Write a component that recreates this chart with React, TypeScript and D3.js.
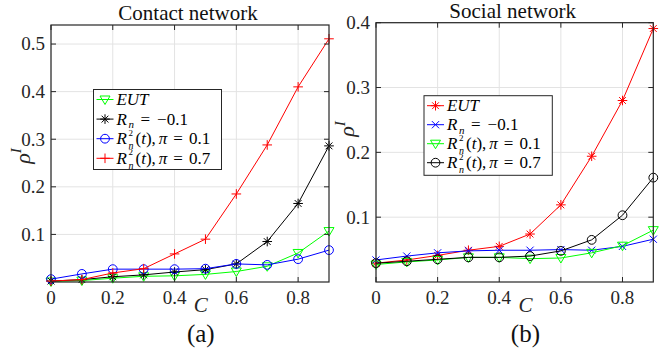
import React from 'react';
import * as d3 from 'd3';

// fraction of community detection / contact restriction C
const cValues = [0, 0.1, 0.2, 0.3, 0.4, 0.5, 0.6, 0.7, 0.8, 0.9];
const xTicks = [0, 0.2, 0.4, 0.6, 0.8];

// (a) contact network
const contactEUT = [0.001, 0.003, 0.008, 0.012, 0.013, 0.016, 0.022, 0.033, 0.061, 0.107];
const contactRn = [0.002, 0.005, 0.011, 0.015, 0.021, 0.026, 0.038, 0.085, 0.165, 0.286];
const contactPi01 = [0.006, 0.017, 0.027, 0.027, 0.027, 0.028, 0.038, 0.036, 0.048, 0.067];
const contactPi07 = [0.002, 0.005, 0.019, 0.028, 0.059, 0.09, 0.185, 0.288, 0.41, 0.511];
const contactYTicks = [0.1, 0.2, 0.3, 0.4, 0.5];

// (b) social network
const socialEUT = [0.029, 0.034, 0.041, 0.049, 0.055, 0.074, 0.119, 0.194, 0.28, 0.391];
const socialRn = [0.034, 0.04, 0.045, 0.048, 0.049, 0.049, 0.05, 0.049, 0.055, 0.066];
const socialPi01 = [0.027, 0.031, 0.034, 0.038, 0.038, 0.036, 0.037, 0.045, 0.056, 0.08];
const socialPi07 = [0.029, 0.032, 0.035, 0.038, 0.038, 0.04, 0.048, 0.065, 0.103, 0.161];
const socialYTicks = [0.1, 0.2, 0.3, 0.4];

const FONT = '"Liberation Serif", "DejaVu Serif", serif';
const AX = '#262626';
const GRID = '#e3e3e3';

type Marker = 'plus' | 'star' | 'circle' | 'tri' | 'cross';
type Label = 'eut' | 'rn' | 'pi01' | 'pi07';
interface Series { values: number[]; color: string; marker: Marker; label: Label }

function MarkerShape({ m, x, y, color }: { m: Marker; x: number; y: number; color: string }) {
  const s = 4.8;
  const p = { stroke: color, strokeWidth: 1, fill: 'none' };
  if (m === 'circle') return <circle cx={x} cy={y} r={4.4} {...p} />;
  if (m === 'tri')
    return <path d={`M${x - 5},${y - 3.5}L${x + 5},${y - 3.5}L${x},${y + 5}Z`} {...p} />;
  if (m === 'plus') return <path d={`M${x - s},${y}H${x + s}M${x},${y - s}V${y + s}`} {...p} />;
  if (m === 'cross') {
    const d = 3.6;
    return <path d={`M${x - d},${y - d}L${x + d},${y + d}M${x - d},${y + d}L${x + d},${y - d}`} {...p} />;
  }
  const d = 3.4;
  return (
    <path
      d={`M${x - s},${y}H${x + s}M${x},${y - s}V${y + s}M${x - d},${y - d}L${x + d},${y + d}M${x - d},${y + d}L${x + d},${y - d}`}
      {...p}
    />
  );
}

function LegendText({ label, x, y }: { label: Label; x: number; y: number }) {
  const fs = 17;
  const base = y + 5.5;
  if (label === 'eut')
    return (
      <text x={x} y={base} fontFamily={FONT} fontSize={fs} fontStyle="italic" textLength={32}>
        EUT
      </text>
    );
  if (label === 'rn')
    return (
      <g fontFamily={FONT}>
        <text x={x} y={base} fontSize={fs} fontStyle="italic">R</text>
        <text x={x + 12} y={base + 3.5} fontSize={11} fontStyle="italic">n</text>
        <text x={x + 24} y={base} fontSize={fs}>
          =<tspan dx={7}>−0.1</tspan>
        </text>
      </g>
    );
  const val = label === 'pi01' ? '0.1' : '0.7';
  return (
    <g fontFamily={FONT}>
      <text x={x} y={base} fontSize={fs} fontStyle="italic">R</text>
      <text x={x + 12} y={base - 8.5} fontSize={9}>2</text>
      <text x={x + 12} y={base + 5} fontSize={10} fontStyle="italic">n</text>
      <text x={x + 19} y={base} fontSize={fs}>
        (<tspan fontStyle="italic">t</tspan>),
        <tspan dx={3} fontStyle="italic">π</tspan>
        <tspan dx={6}>=</tspan>
        <tspan dx={6}>{val}</tspan>
      </text>
    </g>
  );
}

interface PanelProps {
  left: number; top: number; right: number; bottom: number;
  yMax: number; yTicks: number[]; series: Series[];
  title: string; titleY: number; tag: string;
  legend: { x: number; y: number; w: number; h: number; rowGap: number };
  yLabel: { x: number; y: number };
}

function Panel(props: PanelProps) {
  const { left, top, right, bottom, yMax, yTicks, series, title, titleY, tag, legend, yLabel } = props;
  const x = d3.scaleLinear().domain([0, 0.9]).range([left, right]);
  const y = d3.scaleLinear().domain([0, yMax]).range([bottom, top]);
  const line = d3.line<number>().x((_, i) => x(cValues[i])).y((v) => y(v));
  const cx = (left + right) / 2;
  const tl = 5;
  return (
    <g>
      {xTicks.map((t) => (
        <line key={'gx' + t} x1={x(t)} x2={x(t)} y1={top} y2={bottom} stroke={GRID} />
      ))}
      {yTicks.map((t) => (
        <line key={'gy' + t} x1={left} x2={right} y1={y(t)} y2={y(t)} stroke={GRID} />
      ))}
      {series.map((s, k) => (
        <g key={k}>
          <path d={line(s.values) || ''} fill="none" stroke={s.color} strokeWidth={1} />
          {s.values.map((v, i) => (
            <MarkerShape key={i} m={s.marker} x={x(cValues[i])} y={y(v)} color={s.color} />
          ))}
        </g>
      ))}
      <rect x={left} y={top} width={right - left} height={bottom - top} fill="none" stroke={AX} strokeWidth={1.2} />
      {xTicks.map((t) => (
        <g key={'tx' + t}>
          <line x1={x(t)} x2={x(t)} y1={bottom} y2={bottom - tl} stroke={AX} />
          <line x1={x(t)} x2={x(t)} y1={top} y2={top + tl} stroke={AX} />
          <text x={x(t)} y={304} textAnchor="middle" fontFamily={FONT} fontSize={19} fill="#262626">
            {t}
          </text>
        </g>
      ))}
      {yTicks.map((t) => (
        <g key={'ty' + t}>
          <line x1={left} x2={left + tl} y1={y(t)} y2={y(t)} stroke={AX} />
          <line x1={right} x2={right - tl} y1={y(t)} y2={y(t)} stroke={AX} />
          <text x={left - 6} y={y(t)} dy="0.34em" textAnchor="end" fontFamily={FONT} fontSize={19} fill="#262626">
            {t}
          </text>
        </g>
      ))}
      <text x={cx - 2} y={titleY} textAnchor="middle" fontFamily={FONT} fontSize={21} fill="#111">
        {title}
      </text>
      <text
        transform={`translate(${yLabel.x},${yLabel.y}) rotate(-90)`}
        textAnchor="middle"
        fontFamily={FONT}
        fontSize={22}
        fill="#262626"
      >
        <tspan fontStyle="italic">ρ</tspan>
        <tspan fontStyle="italic" fontSize={15} dy={-9}>I</tspan>
      </text>
      <text x={x(0.485)} y={312} textAnchor="middle" fontFamily={FONT} fontSize={21} fontStyle="italic" fill="#262626">
        C
      </text>
      <text x={x(0.485)} y={342} textAnchor="middle" fontFamily={FONT} fontSize={25} fill="#111">
        {tag}
      </text>
      <rect x={legend.x} y={legend.y} width={legend.w} height={legend.h} fill="#fff" stroke={AX} strokeWidth={1} />
      {series.map((s, k) => {
        const ry = legend.y + 10 + k * legend.rowGap;
        return (
          <g key={'lg' + k}>
            <line x1={legend.x + 3} x2={legend.x + 20} y1={ry} y2={ry} stroke={s.color} />
            <MarkerShape m={s.marker} x={legend.x + 11.5} y={ry} color={s.color} />
            <LegendText label={s.label} x={legend.x + 23} y={ry} />
          </g>
        );
      })}
    </g>
  );
}

export default function App() {
  const contactSeries: Series[] = [
    { values: contactEUT, color: '#00ff00', marker: 'tri', label: 'eut' },
    { values: contactRn, color: '#000000', marker: 'star', label: 'rn' },
    { values: contactPi01, color: '#0000ff', marker: 'circle', label: 'pi01' },
    { values: contactPi07, color: '#ff0000', marker: 'plus', label: 'pi07' },
  ];
  const socialSeries: Series[] = [
    { values: socialEUT, color: '#ff0000', marker: 'star', label: 'eut' },
    { values: socialRn, color: '#0000ff', marker: 'cross', label: 'rn' },
    { values: socialPi01, color: '#00ff00', marker: 'tri', label: 'pi01' },
    { values: socialPi07, color: '#000000', marker: 'circle', label: 'pi07' },
  ];
  return (
    <svg width={672} height={355} style={{ position: 'absolute', left: 0, top: 0, background: '#fff' }}>
      <rect width={672} height={355} fill="#fff" />
      <Panel
        left={51} top={25} right={329} bottom={282}
        yMax={0.54} yTicks={contactYTicks} series={contactSeries}
        title="Contact network" titleY={20} tag="(a)"
        legend={{ x: 93.5, y: 89.5, w: 128, h: 80, rowGap: 19.6 }}
        yLabel={{ x: 30, y: 156 }}
      />
      <Panel
        left={376} top={22.7} right={653.3} bottom={282}
        yMax={0.4} yTicks={socialYTicks} series={socialSeries}
        title="Social network" titleY={18} tag="(b)"
        legend={{ x: 424, y: 95.7, w: 128.3, h: 79.6, rowGap: 19 }}
        yLabel={{ x: 354, y: 129 }}
      />
    </svg>
  );
}
